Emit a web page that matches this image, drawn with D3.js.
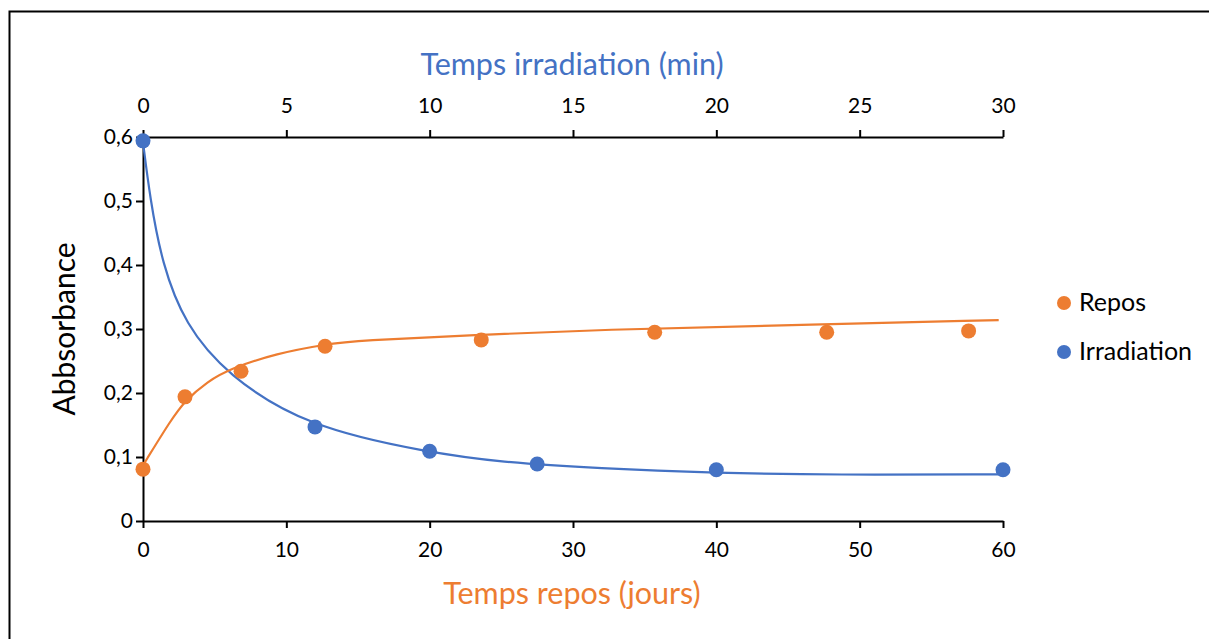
<!DOCTYPE html>
<html><head><meta charset="utf-8">
<script src="https://cdn.jsdelivr.net/npm/d3@7/dist/d3.min.js"></script>
<style>body{margin:0;background:#fff;} svg{display:block;}</style>
</head><body>
<svg id="chart" width="1209" height="639"></svg>
<script>
// Data
const reposDays = [0, 2.93, 6.84, 12.7, 23.6, 35.7, 47.7, 57.6];
const reposAbs  = [0.081, 0.194, 0.234, 0.273, 0.283, 0.295, 0.295, 0.297];
const irrMin = [0, 6, 10, 13.75, 20, 30];
const irrAbs = [0.594, 0.147, 0.109, 0.089, 0.080, 0.080];
// Trend curves
const reposTrendX = [0, 1.95, 2.93, 4.5, 6.07, 9.35, 12.7, 15, 23.6, 31.9, 45, 59.7];
const reposTrendY = [0.087, 0.158, 0.188, 0.218, 0.238, 0.262, 0.276, 0.282, 0.291, 0.299, 0.306, 0.314];
const irrTrendX = [0, 0.244, 0.663, 1.465, 2.93, 5.72, 9.98, 12.45, 15.9, 20, 24.1, 29.9];
const irrTrendY = [0.592, 0.505, 0.402, 0.307, 0.228, 0.147, 0.107, 0.092, 0.082, 0.075, 0.072, 0.073];
const yTicks = [0, 0.1, 0.2, 0.3, 0.4, 0.5, 0.6];
const xBottomTicks = [0, 10, 20, 30, 40, 50, 60];
const xTopTicks = [0, 5, 10, 15, 20, 25, 30];

const ORANGE = "#ED7D31", BLUE = "#4472C4";
const FONT = "Lato, 'Open Sans', sans-serif";
const svg = d3.select("#chart");

// outer frame
svg.append("rect").attr("x", 9.5).attr("y", 11.5).attr("width", 1260).attr("height", 700)
  .attr("fill", "none").attr("stroke", "#000").attr("stroke-width", 2);

const L = 143, R = 1003, T = 137, B = 521;
const xB = d3.scaleLinear().domain([0, 60]).range([L, R]);
const xT = d3.scaleLinear().domain([0, 30]).range([L, R]);
const y = d3.scaleLinear().domain([0, 0.6]).range([B, T]);

const fmt = d => d3.format(".1f")(d).replace(".", ",");

function styleAxis(g) {
  g.selectAll(".domain").attr("stroke", "#000").attr("stroke-width", 2);
  g.selectAll(".tick line").attr("stroke", "#000").attr("stroke-width", 2);
  g.selectAll(".tick text").attr("font-family", FONT).attr("font-size", 21).attr("fill", "#000");
}

const gy = svg.append("g").attr("transform", `translate(${L},0)`)
  .call(d3.axisLeft(y).tickValues(yTicks).tickFormat(d => d === 0 ? "0" : fmt(d)).tickSize(7).tickSizeOuter(0).tickPadding(3));
styleAxis(gy);

const gb = svg.append("g").attr("transform", `translate(0,${B})`)
  .call(d3.axisBottom(xB).tickValues(xBottomTicks).tickSize(7).tickSizeOuter(0).tickPadding(14));
styleAxis(gb);

const gt = svg.append("g").attr("transform", `translate(0,${T})`)
  .call(d3.axisTop(xT).tickValues(xTopTicks).tickSize(7).tickSizeOuter(0).tickPadding(17));
styleAxis(gt);

// Axis titles
svg.append("text").attr("x", (L + R) / 2 - 1).attr("y", 75).attr("text-anchor", "middle")
  .attr("font-family", FONT).attr("font-size", 30.5).attr("fill", BLUE).text("Temps irradiation (min)");
svg.append("text").attr("x", (L + R) / 2 - 1).attr("y", 604).attr("text-anchor", "middle")
  .attr("font-family", FONT).attr("font-size", 30.5).attr("fill", ORANGE).text("Temps repos (jours)");
svg.append("text").attr("transform", `translate(75,${(T + B) / 2}) rotate(-90)`).attr("text-anchor", "middle")
  .attr("font-family", FONT).attr("font-size", 30).attr("fill", "#000").text("Abbsorbance");

// Trend lines
const line = d3.line().curve(d3.curveBasis);
svg.append("path").attr("d", line(irrTrendX.map((d, i) => [xT(d), y(irrTrendY[i])])))
  .attr("fill", "none").attr("stroke", BLUE).attr("stroke-width", 2.2);
svg.append("path").attr("d", line(reposTrendX.map((d, i) => [xB(d), y(reposTrendY[i])])))
  .attr("fill", "none").attr("stroke", ORANGE).attr("stroke-width", 2.2);

// Points
svg.append("g").selectAll("circle").data(reposDays).join("circle")
  .attr("cx", d => xB(d)).attr("cy", (d, i) => y(reposAbs[i])).attr("r", 7.5).attr("fill", ORANGE);
svg.append("g").selectAll("circle").data(irrMin).join("circle")
  .attr("cx", d => xT(d)).attr("cy", (d, i) => y(irrAbs[i])).attr("r", 7.5).attr("fill", BLUE);

// Legend
const legend = [["Repos", ORANGE, 303], ["Irradiation", BLUE, 352]];
legend.forEach(([name, c, cy]) => {
  svg.append("circle").attr("cx", 1064).attr("cy", cy).attr("r", 7).attr("fill", c);
  svg.append("text").attr("x", 1079).attr("y", cy + 8).attr("font-family", FONT)
    .attr("font-size", 25).attr("fill", "#000").text(name);
});
</script>
</body></html>
